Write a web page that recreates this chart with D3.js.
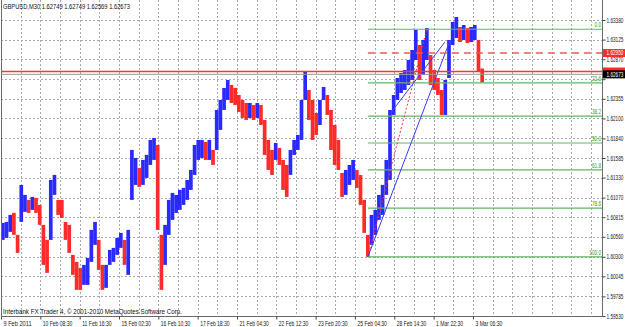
<!DOCTYPE html>
<html><head><meta charset="utf-8">
<script src="https://cdn.jsdelivr.net/npm/d3@7"></script>
<style>html,body{margin:0;padding:0;background:#fff;overflow:hidden}svg{display:block}text{font-family:"Liberation Sans",Arial,sans-serif}</style>
</head><body><svg id="c" width="625" height="327"></svg>
<script>
const chartTitle = "GBPUSD,M30  1.62749 1.62749 1.62569 1.62673";
const copyright = "Interbank FX Trader 4, \u00a9 2001-2010 MetaQuotes Software Corp.";
const barsPerGroup = 6; // M30 bars per drawn group
const highs = [1.60741,1.60754,1.60845,1.60871,1.60585,1.61235,1.61105,1.6104,1.61079,1.61066,
1.60975,1.60715,1.6052,1.613,1.61365,1.6104,1.6104,1.60754,1.60715,1.60325,
1.60234,1.60156,1.60195,1.60286,1.6065,1.60754,1.6052,1.60195,1.60195,1.6039,
1.60416,1.60546,1.60611,1.6052,1.6065,1.6169,1.61586,1.61456,1.6156,1.61625,
1.6182,1.61846,1.61755,1.60585,1.60715,1.6104,1.61131,1.61105,1.6117,1.61196,
1.613,1.6143,1.61755,1.6182,1.6182,1.61794,1.6182,1.6169,1.6221,1.6234,
1.62496,1.626,1.62535,1.62496,1.62405,1.6234,1.62301,1.62301,1.62275,1.62301,
1.62275,1.6208,1.6182,1.6169,1.61781,1.61716,1.6156,1.61495,1.6169,1.6182,
1.61885,1.6234,1.62704,1.6247,1.6234,1.62171,1.6234,1.62509,1.62405,1.6221,
1.62015,1.6182,1.61391,1.6143,1.61495,1.6156,1.6143,1.61365,1.6104,1.60585,
1.60845,1.6091,1.61105,1.61235,1.6156,1.6221,1.62405,1.62626,1.62691,1.6273,
1.6286,1.6299,1.6325,1.63055,1.6312,1.63276,1.62925,1.6273,1.62626,1.6247,
1.626,1.6312,1.63354,1.63419,1.63289,1.63315,1.63276,1.63289,1.63315,1.6312,
1.62749];
const lows = [1.6052,1.60546,1.60624,1.60585,1.60351,1.60754,1.60884,1.60871,1.6091,1.60871,
1.60715,1.60195,1.60091,1.6052,1.61105,1.60845,1.60806,1.6052,1.60351,1.60065,
1.5987,1.5987,1.59935,1.59935,1.60234,1.60455,1.6013,1.5987,1.59896,1.60195,
1.60234,1.60325,1.60416,1.60195,1.60065,1.6104,1.61235,1.61209,1.61235,1.61326,
1.61495,1.6156,1.6065,1.5987,1.60195,1.60585,1.6078,1.60871,1.6091,1.60975,
1.6104,1.6117,1.61365,1.6156,1.61586,1.6156,1.6156,1.61495,1.6169,1.6195,
1.6221,1.6234,1.62301,1.62275,1.62184,1.62106,1.6208,1.62106,1.6208,1.62106,
1.62015,1.61625,1.6143,1.61365,1.6156,1.61495,1.6117,1.61079,1.61365,1.61625,
1.6169,1.6182,1.6234,1.6208,1.6182,1.61885,1.62015,1.6234,1.62145,1.6169,
1.61495,1.6143,1.61079,1.61105,1.61235,1.613,1.61196,1.60975,1.60611,1.60299,
1.60455,1.60585,1.6078,1.60845,1.61105,1.613,1.62145,1.6234,1.62431,1.6247,
1.62535,1.626,1.6286,1.626,1.62665,1.6286,1.62535,1.6247,1.62405,1.62145,
1.62145,1.62626,1.63055,1.63146,1.63094,1.6312,1.63081,1.63094,1.6312,1.62704,
1.62569];
const priceTicks = [1.63380,1.63125,1.62870,1.62610,1.62355,1.62100,1.61840,1.61585,1.61330,1.61070,1.60815,1.60560,1.60300,1.60045,1.59785,1.59530];
const hiddenTick = 1.62610; // covered by the price tags in the reference
const dateLabels = ["9 Feb 2011","10 Feb 08:30","11 Feb 16:30","15 Feb 02:30","16 Feb 10:30","17 Feb 18:30","21 Feb 04:30","22 Feb 12:30","23 Feb 20:30","25 Feb 04:30","28 Feb 14:30","1 Mar 22:30","3 Mar 06:30"];
const dateLabelBars = [0,64,128,192,256,320,384,448,512,576,640,704,768];
const gridBars = [32,64,96,128,160,192,224,256,288,320,352,384,416,448,480,512,544,576,608,640,672,704,736,768,800,832,864,896,928,960];
const fibLevels = [0,23.6,38.2,50,61.8,78.6,100];
const fibLowBar = 597, fibLowPrice = 1.6030, fibHighBar = 693, fibHighPrice = 1.6326;
const trendFrom = [[597,1.6030],[635,1.6218]];
const trendTo = [[731,1.6312],[722,1.6309]];
const dashedLevel = 1.62950, redLevel = 1.62710, bidPrice = 1.62673;

const W = 625, H = 327;
const svg = d3.select("#c");
const x = d3.scaleLinear().domain([0, 978]).range([1, 602]);
const y = d3.scaleLinear().domain([1.5953, 1.6338]).range([316, 20]);
const left = x(0), right = x(978), bottom = y(1.5953);
const step = x(barsPerGroup) - x(0);
const squeeze = 0.72; // horizontal compression of the small MT4 font

svg.append("rect").attr("width", W).attr("height", H).attr("fill", "#fff");

// grid
const grid = svg.append("g").attr("stroke", "#a9a9b2").attr("stroke-dasharray", "2,2").attr("stroke-width", 1);
grid.selectAll(".h").data(priceTicks.slice(0, -1)).join("line")
  .attr("x1", left).attr("x2", right)
  .attr("y1", d => Math.round(y(d)) + 0.5).attr("y2", d => Math.round(y(d)) + 0.5);
grid.selectAll(".v").data(gridBars).join("line")
  .attr("x1", d => Math.round(x(d)) + 0.5).attr("x2", d => Math.round(x(d)) + 0.5)
  .attr("y1", 0).attr("y2", bottom);

// bars
const groups = highs.map((h, i) => ({bar: i * barsPerGroup + barsPerGroup / 2, hi: h, lo: lows[i]}));
groups.forEach((d, i) => {
  const mid = (d.hi + d.lo) / 2;
  const prev = i > 0 ? (groups[i - 1].hi + groups[i - 1].lo) / 2 : mid;
  d.up = mid >= prev;
});
svg.append("g").selectAll("line").data(groups).join("line")
  .attr("x1", d => x(d.bar)).attr("x2", d => x(d.bar))
  .attr("y1", d => y(d.hi)).attr("y2", d => y(d.lo))
  .attr("stroke", d => d.up ? "#2a2aff" : "#ff2a2a")
  .attr("stroke-width", step);

// fibo levels
const fibPrice = l => fibHighPrice - (fibHighPrice - fibLowPrice) * l / 100;
const fib = svg.append("g");
fib.selectAll("line").data(fibLevels).join("line")
  .attr("x1", x(fibLowBar)).attr("x2", right)
  .attr("y1", d => y(fibPrice(d))).attr("y2", d => y(fibPrice(d)))
  .attr("stroke", "#5cb85c").attr("stroke-width", 1.2);
fib.selectAll("text").data(fibLevels).join("text")
  .attr("transform", d => `translate(${right - 1},${y(fibPrice(d)) - 2}) scale(${squeeze},1)`)
  .attr("text-anchor", "end").attr("font-size", 6.5).attr("fill", "#2f9a2f")
  .text(d => d.toFixed(1));
// fibo anchor line
svg.append("line")
  .attr("x1", x(fibLowBar)).attr("y1", y(fibLowPrice)).attr("x2", x(fibHighBar)).attr("y2", y(fibHighPrice))
  .attr("stroke", "#ff3030").attr("stroke-dasharray", "2,2").attr("stroke-width", 1);

// trend lines
svg.append("g").selectAll("line").data(trendFrom).join("line")
  .attr("x1", d => x(d[0])).attr("y1", d => y(d[1]))
  .attr("x2", (d, i) => x(trendTo[i][0])).attr("y2", (d, i) => y(trendTo[i][1]))
  .attr("stroke", "#3a3aff").attr("stroke-width", 1);

// horizontal lines
svg.append("line").attr("x1", x(fibLowBar)).attr("x2", right).attr("y1", y(dashedLevel)).attr("y2", y(dashedLevel))
  .attr("stroke", "#f05a5a").attr("stroke-width", 1.5).attr("stroke-dasharray", "7,5");
svg.append("line").attr("x1", left).attr("x2", right).attr("y1", y(redLevel)).attr("y2", y(redLevel))
  .attr("stroke", "#ff3333").attr("stroke-width", 1.5);
svg.append("line").attr("x1", left).attr("x2", right).attr("y1", y(bidPrice)).attr("y2", y(bidPrice))
  .attr("stroke", "#9a9a9a").attr("stroke-width", 1);

// frame
svg.append("path").attr("d", `M${left + 0.5},0V${bottom + 0.5}H${right + 0.5}V0`)
  .attr("fill", "none").attr("stroke", "#6a6a6a").attr("stroke-width", 1);

// price axis
const yAxis = d3.axisRight(y).tickValues(priceTicks).tickSize(3).tickPadding(1)
  .tickFormat(d => d === hiddenTick ? "" : d3.format(".5f")(d));
const ya = svg.append("g").attr("transform", `translate(${right + 0.5},0)`).call(yAxis);
ya.select(".domain").remove();
ya.selectAll("line").attr("stroke", "#444");
ya.selectAll("text").attr("x", null).attr("transform", `translate(4,0) scale(${squeeze},1)`)
  .attr("font-size", 6.5).attr("fill", "#222").attr("font-family", "Liberation Sans, Arial");

// price labels for lines
const tags = [{p: dashedLevel, c: "#ff2a2a", t: true}, {p: redLevel, c: "#ff2a2a", t: false}, {p: bidPrice, c: "#000", t: true}];
const tg = svg.append("g").selectAll("g").data(tags).join("g")
  .attr("transform", d => `translate(${right + 1},${y(d.p)})`);
tg.append("rect").attr("x", 0).attr("y", -4).attr("width", W - right - 1).attr("height", 8).attr("fill", d => d.c);
tg.filter(d => d.t).append("text").attr("transform", `translate(3.5,2.4) scale(${squeeze},1)`)
  .attr("font-size", 6.5).attr("fill", "#fff").text(d => d.p.toFixed(5));

// time axis
const xAxis = d3.axisBottom(x).tickValues(dateLabelBars).tickSize(3).tickFormat((d, i) => dateLabels[i]);
const xa = svg.append("g").attr("transform", `translate(0,${bottom + 0.5})`).call(xAxis);
xa.select(".domain").remove();
xa.selectAll("line").attr("stroke", "#444");
xa.selectAll("text").attr("text-anchor", "start").attr("dx", 2).attr("y", 5).attr("dy", "0.7em")
  .attr("font-size", 6.5).attr("fill", "#222").attr("font-family", "Liberation Sans, Arial")
  .attr("textLength", function() { const t = this.textContent; return t.length === 10 ? 28 : t.length * 2.45; })
  .attr("lengthAdjust", "spacingAndGlyphs");

// title and copyright
svg.append("text").attr("x", 3).attr("y", 9).attr("font-size", 7).attr("fill", "#111")
  .attr("textLength", 127).attr("lengthAdjust", "spacingAndGlyphs").text(chartTitle);
svg.append("text").attr("x", 3).attr("y", 314).attr("font-size", 7).attr("fill", "#111")
  .attr("textLength", 179).attr("lengthAdjust", "spacingAndGlyphs").text(copyright);
</script></body></html>
